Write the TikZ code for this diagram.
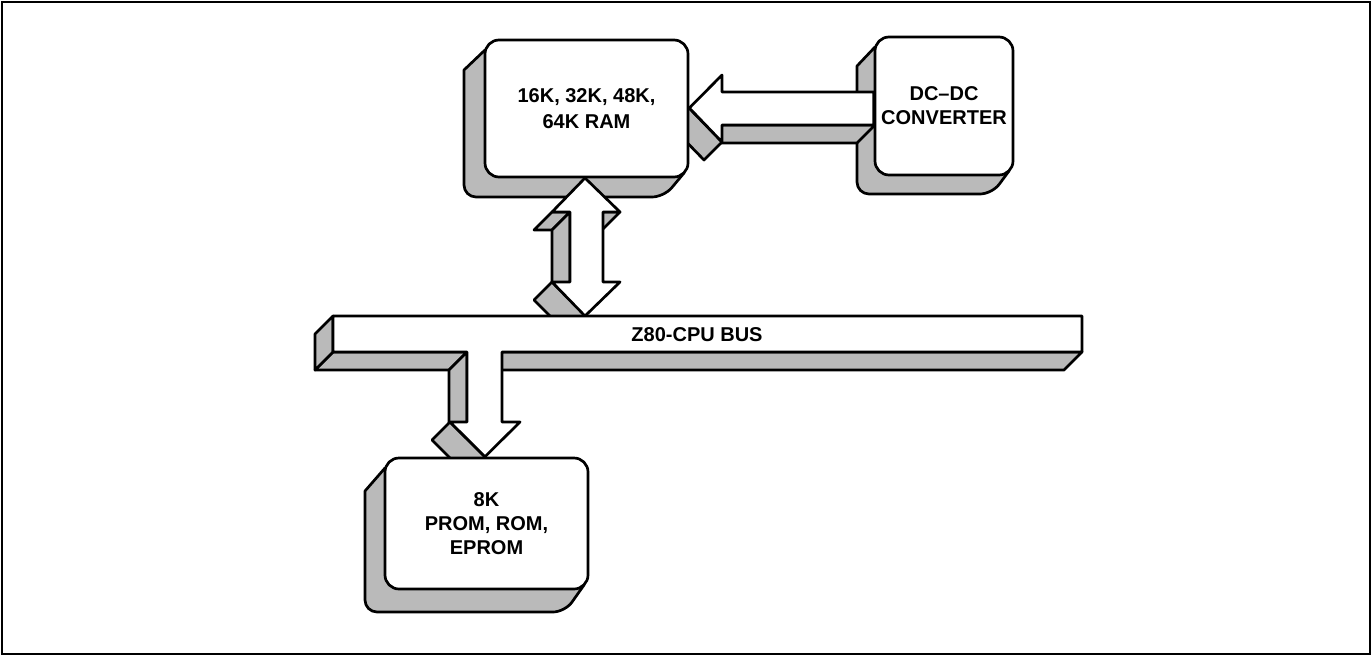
\documentclass[tikz,border=0pt]{standalone}
\usepackage{fontspec}
\setmainfont{Liberation Sans}
\pgfdeclarelayer{bg}
\pgfdeclarelayer{mid}
\pgfsetlayers{bg,mid,main}
\tikzset{
  ln/.style={line width=2.7pt, line join=round},
  shadeface/.style={ln, draw=black, fill=black!27},
  frontface/.style={ln, draw=black, fill=white},
  boxfront/.style={frontface, rounded corners=14pt, inner sep=0pt, align=center,
    font=\fontsize{20}{24}\selectfont\bfseries},
  lbl/.style={font=\fontsize{20}{24}\selectfont\bfseries, inner sep=0pt},
}
% x1,y1,x2,y2 of the front box; a,b = extrusion to the left / downwards
\newcommand\boxshade[6]{%
  \filldraw[shadeface] (#1,#2+10) -- (#1-#5,#2+10+#6) [rounded corners=12pt]
    -- (#1-#5,#4+#6) -- (#3-#5-3,#4+#6) [sharp corners] -- (#3-4,#4-4) -- cycle;}
\begin{document}
\begin{tikzpicture}[x=1pt,y=-1pt]
\useasboundingbox (0,0) rectangle (1372,656);
\draw[line width=1.6pt] (2,2) rectangle (1370,654);

% front boxes
\node[boxfront, minimum width=203pt, minimum height=137pt,
  font=\fontsize{20}{26}\selectfont\bfseries] (ram) at (586.5,108.5)
  {16K, 32K, 48K,\\64K RAM};
\node[boxfront, minimum width=138pt, minimum height=138pt] (dc) at (944,106)
  {DC--DC\\CONVERTER};
\node[boxfront, minimum width=203pt, minimum height=131pt] (prom) at (486.5,523.5)
  {8K\\PROM, ROM,\\EPROM};
\node[lbl] (bus) at (697,335) {Z80-CPU BUS};

% shaded (extruded) faces
\begin{pgfonlayer}{bg}
\boxshade{875}{37}{1013}{175}{18}{19}
\boxshade{485}{40}{688}{177}{21}{20}
\boxshade{385}{458}{588}{589}{20}{23}
% DC -> RAM arrow
\filldraw[shadeface] (722,125) -- (875,125) -- (857,143) -- (704,143) -- cycle;
\filldraw[shadeface] (689,108) -- (722,142) -- (704,160) -- (671,126) -- cycle;
% RAM <-> bus arrow
\filldraw[shadeface] (552,212) -- (570,212) -- (552,230) -- (534,230) -- cycle;
\filldraw[shadeface] (570,212) -- (570,282) -- (552,300) -- (552,230) -- cycle;
\filldraw[shadeface] (603,212) -- (620,212) -- (602,230) -- (585,230) -- cycle;
\filldraw[shadeface] (552,282) -- (585,315) -- (567,333) -- (534,300) -- cycle;
% bus and bus -> PROM arrow
\filldraw[shadeface] (502,352) -- (1082,352) -- (1064,370) -- (484,370) -- cycle;
\filldraw[shadeface] (333,352) -- (467,352) -- (449,370) -- (315,370) -- cycle;
\filldraw[shadeface] (333,316) -- (333,352) -- (315,370) -- (315,334) -- cycle;
\filldraw[shadeface] (467,352) -- (467,422) -- (449,440) -- (449,370) -- cycle;
\filldraw[shadeface] (450,422) -- (485,457) -- (467,475) -- (432,440) -- cycle;
\end{pgfonlayer}

% front faces of arrows and bus
\begin{pgfonlayer}{mid}
\filldraw[frontface] (ram.east |- 0,108) -- (722,75) -- (722,92) -- (dc.west |- 0,92)
  -- (dc.west |- 0,125) -- (722,125) -- (722,142) -- cycle;
\filldraw[frontface] (585,178) -- (620,212) -- (603,212) -- (603,282) -- (620,282)
  -- (585,316) -- (552,282) -- (570,282) -- (570,212) -- (552,212) -- cycle;
\filldraw[frontface] (333,316) -- (1082,316) -- (1082,352) -- (502,352) -- (502,422)
  -- (520,422) -- (prom.north -| 485,0) -- (450,422) -- (467,422) -- (467,352)
  -- (333,352) -- cycle;
\end{pgfonlayer}
\end{tikzpicture}
\end{document}
